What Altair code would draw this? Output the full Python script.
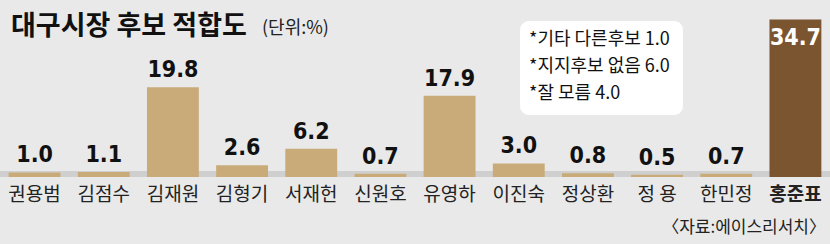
import altair as alt
import pandas as pd

names = ["권용범", "김점수", "김재원", "김형기", "서재헌", "신원호", "유영하", "이진숙", "정상환", "정 용", "한민정", "홍준표"]
values = [1.0, 1.1, 19.8, 2.6, 6.2, 0.7, 17.9, 3.0, 0.8, 0.5, 0.7, 34.7]
highlight = "홍준표"
note_labels = ["*기타 다른후보", "*지지후보 없음", "*잘 모름"]
note_values = ["1.0", "6.0", "4.0"]
title_text = "대구시장 후보 적합도"
unit_text = "(단위:%)"
source_text = "〈자료:에이스리서치〉"

df = pd.DataFrame({"name": names, "value": values})
df["label"] = [f"{v:.1f}" for v in values]
df["hl"] = [n == highlight for n in names]

KFONT = "Noto Sans CJK KR"
NFONT = "DejaVu Sans Condensed, Liberation Sans, sans-serif"

x = alt.X("name:N", sort=names,
          scale=alt.Scale(paddingInner=0.25, paddingOuter=0.125),
          axis=alt.Axis(title=None, domain=False, ticks=False, labelAngle=0,
                        labelFont=KFONT, labelFontSize=19, labelColor="#222222",
                        labelPadding=8,
                        labelFontWeight=alt.condition(f"datum.value == '{highlight}'", alt.value(700), alt.value(400))))
y = alt.Y("value:Q", scale=alt.Scale(domain=[0, 39]), axis=None)

base = alt.Chart(df)

shadow = base.mark_rect(color="#cfcfcf").encode(
    x=alt.value(0), x2=alt.value(830), y=alt.value(171), y2=alt.value(177))

bars = base.mark_bar().encode(
    x=x, y=y,
    color=alt.condition("datum.hl", alt.value("#7b5530"), alt.value("#c9ab79")))

labels_out = base.transform_filter("!datum.hl").mark_text(
    font=NFONT, fontWeight="bold", fontSize=23, baseline="bottom", dy=-5, color="#111111"
).encode(x=alt.X("name:N", sort=names), y=y, text="label:N")

labels_in = base.transform_filter("datum.hl").mark_text(
    font=NFONT, fontWeight="bold", fontSize=23, baseline="top", dy=7, color="white"
).encode(x=alt.X("name:N", sort=names), y=y, text="label:N")

title = alt.Chart(pd.DataFrame({"t": [title_text]})).mark_text(
    font=KFONT, fontWeight="bold", fontSize=27, align="left", baseline="alphabetic", color="#111111"
).encode(x=alt.value(11), y=alt.value(35), text="t:N")

unit = alt.Chart(pd.DataFrame({"t": [unit_text]})).mark_text(
    font=KFONT, fontSize=18, align="left", baseline="alphabetic", color="#222222"
).encode(x=alt.value(262), y=alt.value(34), text="t:N")

box = alt.Chart(pd.DataFrame({"a": [0]})).mark_rect(fill="white", cornerRadius=9).encode(
    x=alt.value(520), x2=alt.value(683), y=alt.value(21), y2=alt.value(115))

note_df = pd.DataFrame({"label": note_labels, "num": note_values, "line": [0, 1, 2]})
note_df["full"] = note_df["label"] + " " + note_df["num"]
note_y = alt.Y("line:Q", scale=alt.Scale(domain=[0, 2], range=[40, 94]), axis=None)
note = alt.Chart(note_df).mark_text(
    font=KFONT, fontSize=18, align="left", baseline="middle", color="#111111"
).encode(x=alt.value(529), y=note_y, text="full:N")

source = alt.Chart(pd.DataFrame({"t": [source_text]})).mark_text(
    font=KFONT, fontSize=17, align="right", baseline="middle", color="#222222"
).encode(x=alt.value(826), y=alt.value(228), text="t:N")

chart = alt.layer(shadow, bars, labels_out, labels_in, title, unit, box, note, source).properties(
    width=830, height=177,
    autosize=alt.AutoSizeParams(type="none"),
    padding={"left": 0, "top": 0, "right": 0, "bottom": 67},
    background="#e9e9e9",
).resolve_scale(y="independent").configure_view(stroke=None)

chart.save("out.html", embed_options={"renderer": "svg", "actions": False})
